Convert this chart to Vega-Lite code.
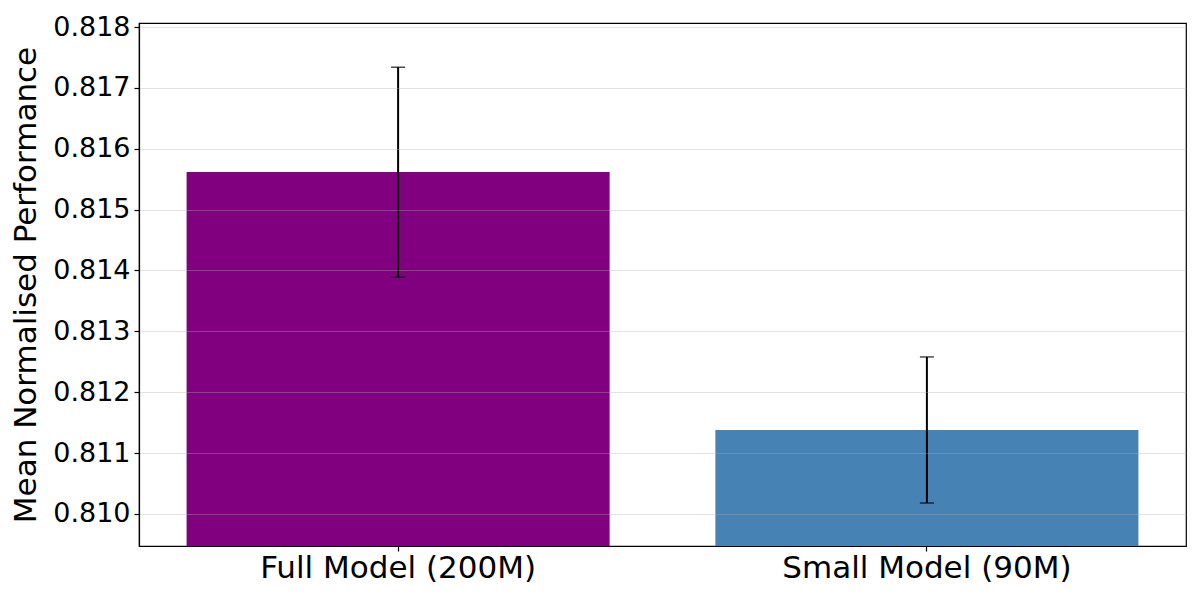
{
  "$schema": "https://vega.github.io/schema/vega-lite/v6.json",
  "autosize": "none",
  "width": 1047,
  "height": 523,
  "padding": {"left": 139, "top": 23, "right": 14, "bottom": 54},
  "background": "white",
  "config": {
    "font": "DejaVu Sans",
    "view": {"stroke": "black", "strokeWidth": 1.2},
    "axis": {
      "labelFont": "DejaVu Sans",
      "titleFont": "DejaVu Sans",
      "labelFontSize": 27,
      "titleFontSize": 31,
      "labelColor": "black",
      "titleColor": "black",
      "titleFontWeight": "normal",
      "domainColor": "black",
      "tickColor": "black",
      "tickSize": 5,
      "tickWidth": 1.2,
      "domainWidth": 1.2,
      "labelLimit": 0
    }
  },
  "data": {
    "values": [
      {"model": "Full Model (200M)", "mean": 0.81562, "lo": 0.81389, "hi": 0.81734},
      {"model": "Small Model (90M)", "mean": 0.81138, "lo": 0.81018, "hi": 0.81258}
    ]
  },
  "encoding": {
    "x": {
      "field": "model",
      "type": "nominal",
      "sort": null,
      "scale": {"paddingInner": 0.2, "paddingOuter": 0.09},
      "axis": {"title": null, "labelAngle": 0, "labelPadding": 2, "labelFontSize": 31, "grid": false}
    }
  },
  "layer": [
    {
      "mark": {"type": "bar", "clip": true},
      "encoding": {
        "y": {
          "field": "mean",
          "type": "quantitative",
          "scale": {"domain": [0.809474, 0.818066], "zero": false, "nice": false},
          "axis": {
            "title": "Mean Normalised Performance",
            "values": [0.810, 0.811, 0.812, 0.813, 0.814, 0.815, 0.816, 0.817, 0.818],
            "format": ".3f",
            "grid": true,
            "gridColor": "#b0b0b0",
            "gridOpacity": 0.35,
            "gridWidth": 1,
            "zindex": 1,
            "labelPadding": 4,
            "titlePadding": 10
          }
        },
        "color": {
          "field": "model",
          "type": "nominal",
          "scale": {"domain": ["Full Model (200M)", "Small Model (90M)"], "range": ["#800080", "#4682b4"]},
          "legend": null
        }
      }
    },
    {
      "mark": {"type": "rule", "color": "black", "strokeWidth": 2},
      "encoding": {
        "y": {"field": "lo", "type": "quantitative"},
        "y2": {"field": "hi"}
      }
    },
    {
      "mark": {"type": "tick", "color": "black", "size": 14, "thickness": 1.5},
      "encoding": {"y": {"field": "lo", "type": "quantitative"}}
    },
    {
      "mark": {"type": "tick", "color": "black", "size": 14, "thickness": 1.5},
      "encoding": {"y": {"field": "hi", "type": "quantitative"}}
    }
  ]
}
